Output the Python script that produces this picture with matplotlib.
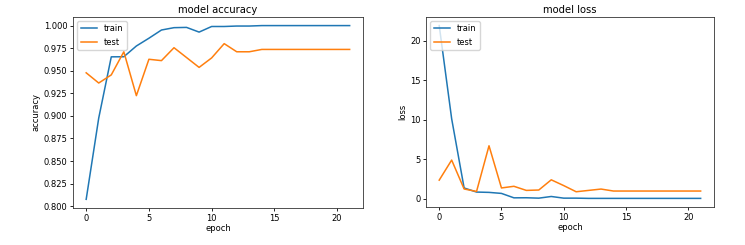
import matplotlib
matplotlib.use("Agg")
import matplotlib.pyplot as plt

epochs = list(range(22))
train_acc = [0.8076, 0.8976, 0.9654, 0.9655, 0.9774, 0.986, 0.9951, 0.9977, 0.998, 0.9928,
             0.999, 0.999, 0.9995, 0.9995, 1.0, 1.0, 1.0, 1.0, 1.0, 1.0, 1.0, 1.0]
test_acc = [0.9477, 0.9364, 0.9454, 0.971, 0.9224, 0.9627, 0.9612, 0.9755, 0.9646, 0.9537,
            0.9642, 0.980, 0.971, 0.971, 0.9736, 0.9736, 0.9736, 0.9736, 0.9736, 0.9736, 0.9736, 0.9736]
train_loss = [21.9, 10.1, 1.34, 0.82, 0.78, 0.65, 0.09, 0.1, 0.05, 0.26,
              0.05, 0.05, 0.02, 0.02, 0.02, 0.02, 0.02, 0.02, 0.02, 0.02, 0.02, 0.02]
test_loss = [2.33, 4.87, 1.21, 0.9, 6.68, 1.34, 1.55, 1.03, 1.08, 2.37,
             1.64, 0.86, 1.03, 1.2, 0.95, 0.95, 0.95, 0.95, 0.95, 0.95, 0.95, 0.95]

plt.rcParams.update({
    'font.size': 6,
    'axes.titlesize': 7.2,
    'axes.labelsize': 6,
    'xtick.labelsize': 6,
    'ytick.labelsize': 6,
    'legend.fontsize': 6,
    'xtick.major.size': 2,
    'ytick.major.size': 2,
    'axes.linewidth': 0.6,
    'axes.edgecolor': '#333333',
})

fig = plt.figure(figsize=(7.45, 2.45), dpi=100)
ax1 = fig.add_axes([0.098, 0.151, 0.389, 0.78])
ax2 = fig.add_axes([0.572, 0.155, 0.386, 0.776])

ax1.plot(epochs, train_acc, lw=1.1, label='train')
ax1.plot(epochs, test_acc, lw=1.1, label='test')
ax1.set_title('model accuracy', pad=3)
ax1.set_ylabel('accuracy', labelpad=2)
ax1.set_xlabel('epoch', labelpad=1)
ax1.legend(loc='upper left')

ax2.plot(epochs, train_loss, lw=1.1, label='train')
ax2.plot(epochs, test_loss, lw=1.1, label='test')
ax2.set_title('model loss', pad=3)
ax2.set_ylabel('loss', labelpad=2)
ax2.set_xlabel('epoch', labelpad=1)
ax2.legend(loc='upper left')

for ax in (ax1, ax2):
    ax.tick_params(pad=2, width=0.6)

fig.savefig('out.png', dpi=100)
